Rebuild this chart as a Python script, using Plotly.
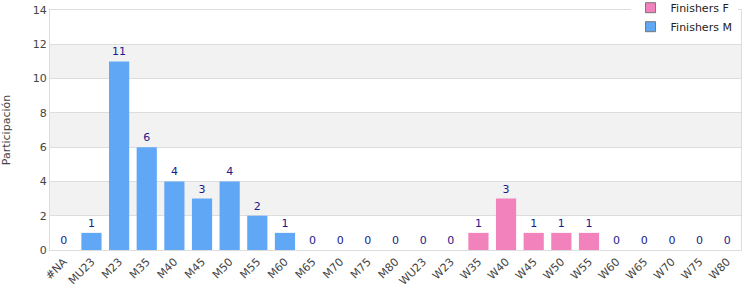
import plotly.graph_objects as go

categories = ["#NA", "MU23", "M23", "M35", "M40", "M45", "M50", "M55", "M60", "M65", "M70", "M75", "M80",
              "WU23", "W23", "W35", "W40", "W45", "W50", "W55", "W60", "W65", "W70", "W75", "W80"]
finishers_m = [0, 1, 11, 6, 4, 3, 4, 2, 1, 0, 0, 0, 0, 0, 0, None, None, None, None, None, 0, 0, 0, 0, 0]
finishers_f = [None, None, None, None, None, None, None, None, None, None, None, None, None, None, None,
               1, 3, 1, 1, 1, None, None, None, None, None]
y_ticks = [0, 2, 4, 6, 8, 10, 12, 14]

FONT = "DejaVu Sans"
label_color = "#1a1a8c"
COL_F = "#f282bc"
COL_M = "#60a8f5"

fig = go.Figure()
fig.add_trace(go.Bar(
    x=categories, y=finishers_f, name="Finishers F", showlegend=False,
    marker=dict(color=COL_F, line=dict(width=0)),
    text=[("" if v is None else str(v)) for v in finishers_f],
    textposition="outside", cliponaxis=False,
    textfont=dict(color=label_color, size=11, family=FONT),
))
fig.add_trace(go.Bar(
    x=categories, y=finishers_m, name="Finishers M", showlegend=False,
    marker=dict(color=COL_M, line=dict(width=0)),
    text=[("" if v is None else str(v)) for v in finishers_m],
    textposition="outside", cliponaxis=False,
    textfont=dict(color=label_color, size=11, family=FONT),
))
# legend entries with grey-bordered swatches
for name, col in [("Finishers F", COL_F), ("Finishers M", COL_M)]:
    fig.add_trace(go.Scatter(
        x=[None], y=[None], mode="markers", name=name,
        marker=dict(symbol="square", size=10, color=col, line=dict(color="#777777", width=1)),
    ))

shapes = []
for lo in [2, 6, 10]:
    shapes.append(dict(type="rect", xref="paper", yref="y", x0=0, x1=1, y0=lo, y1=lo + 2,
                       fillcolor="#f2f2f2", line=dict(width=0), layer="below"))

fig.update_layout(
    width=750, height=300,
    margin=dict(l=50, r=9, t=10, b=50, autoexpand=False),
    paper_bgcolor="white", plot_bgcolor="white",
    barmode="overlay", bargap=0.27,
    font=dict(family=FONT, size=11, color="#444"),
    shapes=shapes,
    showlegend=True,
    legend=dict(x=0.995, xanchor="right", y=1.07, yanchor="top", bgcolor="white",
                font=dict(family=FONT, size=11, color="#222"), traceorder="normal",
                itemwidth=30, tracegroupgap=0, borderwidth=0),
    xaxis=dict(type="category", tickangle=-45, showline=True, linecolor="#dddddd", mirror=True,
               showgrid=False, ticks="", tickfont=dict(size=11, color="#444"),
               range=[-0.5, len(categories) - 0.5], automargin=False),
    yaxis=dict(range=[0, 14], tickvals=y_ticks, showline=True, linecolor="#dddddd", mirror=True,
               showgrid=True, gridcolor="#dddddd", zeroline=False, ticks="",
               tickfont=dict(size=11, color="#444"), automargin=False,
               title=dict(text="Participación", font=dict(size=11, color="#444"), standoff=27)),
)

fig.write_html("out.html")
